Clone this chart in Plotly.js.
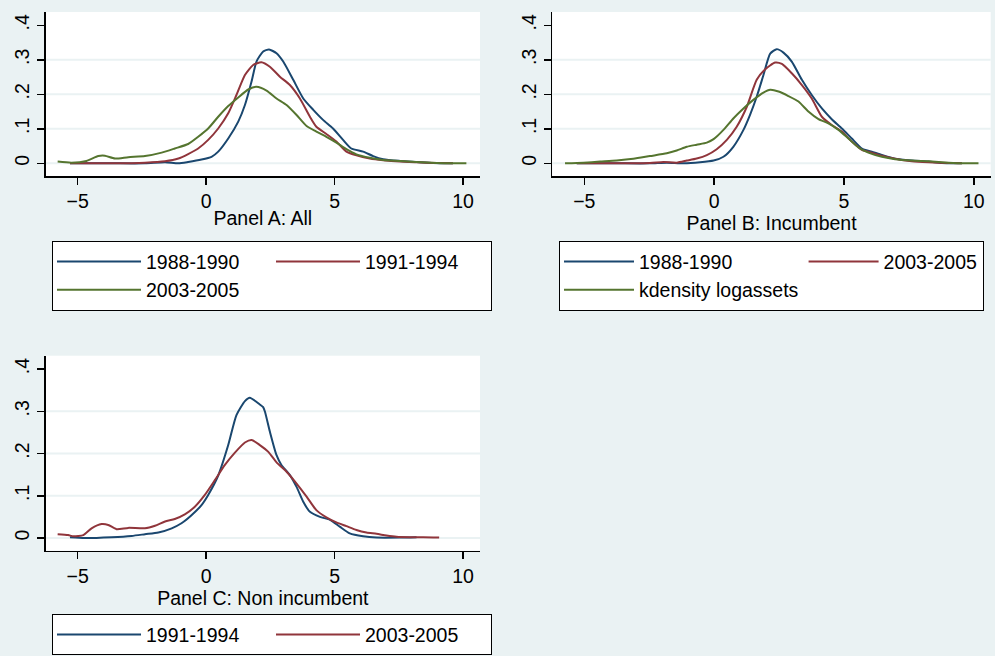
<!DOCTYPE html>
<html><head><meta charset="utf-8">
<script src="https://cdn.plot.ly/plotly-3.0.1.min.js"></script>
<style>html,body{margin:0;padding:0;background:#EAF2F3;} #chart{width:995px;height:656px;}</style>
</head><body><div id="chart"></div>
<script>
// ---- tick labels ----
const xTicks = [-5, 0, 5, 10];
const yTicks = [0, 0.1, 0.2, 0.3, 0.4];
const yTickText = ['0', '.1', '.2', '.3', '.4'];
const gridVals = [0, 0.1, 0.2, 0.3];
const panelTitles = ['Panel A: All', 'Panel B: Incumbent', 'Panel C: Non incumbent'];

// ---- Panel A: All ----
const aNames = ['1988-1990', '1991-1994', '2003-2005'];
const aX1 = [-5.3, -3.69, -2.38, -1.60, -1.08, -0.70, -0.18, 0.21, 0.47, 0.86, 1.25, 1.51, 1.77, 1.96, 2.22, 2.45, 2.74, 3.00, 3.39, 3.78, 4.17, 4.55, 4.94, 5.33, 5.65, 6.11, 6.50, 6.89, 7.54, 8.19, 8.84, 9.6];
const aY1 = [0, 0, 0, 0.003, 0, 0.004, 0.011, 0.019, 0.034, 0.072, 0.121, 0.169, 0.238, 0.295, 0.324, 0.330, 0.319, 0.295, 0.242, 0.188, 0.155, 0.126, 0.101, 0.068, 0.043, 0.034, 0.021, 0.012, 0.007, 0.004, 0.001, 0];
const aX2 = [-5.3, -3.69, -2.38, -1.60, -1.08, -0.70, -0.31, 0.08, 0.47, 0.86, 1.18, 1.51, 1.83, 2.15, 2.48, 2.87, 3.26, 3.65, 4.04, 4.29, 4.68, 5.07, 5.46, 5.85, 6.37, 6.89, 7.54, 8.19, 8.97, 9.61];
const aY2 = [0, 0, 0.002, 0.006, 0.014, 0.027, 0.043, 0.068, 0.101, 0.145, 0.198, 0.256, 0.285, 0.293, 0.280, 0.251, 0.227, 0.188, 0.135, 0.106, 0.085, 0.063, 0.034, 0.023, 0.014, 0.009, 0.005, 0.003, 0.001, 0];
const aX3 = [-5.78, -5.24, -4.66, -4.20, -3.94, -3.55, -3.03, -2.38, -1.73, -1.22, -0.70, -0.31, 0.08, 0.47, 0.86, 1.25, 1.64, 1.96, 2.35, 2.74, 3.13, 3.52, 3.91, 4.29, 4.68, 5.07, 5.46, 5.85, 6.37, 6.89, 7.54, 8.19, 8.97, 9.61, 10.13];
const aY3 = [0.005, 0.002, 0.007, 0.021, 0.022, 0.014, 0.018, 0.021, 0.031, 0.043, 0.056, 0.077, 0.101, 0.135, 0.166, 0.191, 0.214, 0.222, 0.211, 0.188, 0.169, 0.140, 0.108, 0.092, 0.077, 0.060, 0.041, 0.026, 0.016, 0.010, 0.007, 0.004, 0.001, 0, 0];

// ---- Panel B: Incumbent ----
const bNames = ['1988-1990', '2003-2005', 'kdensity logassets'];
const bX1 = [-5.29, -3.75, -2.47, -1.82, -1.18, -0.54, -0.02, 0.36, 0.74, 1.13, 1.38, 1.64, 1.90, 2.16, 2.41, 2.67, 2.99, 3.38, 3.76, 4.15, 4.53, 4.92, 5.30, 5.69, 6.07, 6.46, 6.97, 7.61, 8.26, 8.77, 9.28, 9.54];
const bY1 = [0, 0, 0, 0.002, 0, 0.003, 0.008, 0.019, 0.048, 0.097, 0.140, 0.193, 0.256, 0.318, 0.331, 0.321, 0.295, 0.242, 0.198, 0.159, 0.128, 0.101, 0.072, 0.043, 0.034, 0.024, 0.013, 0.008, 0.005, 0.001, 0, 0];
const bX2 = [-5.29, -3.75, -2.47, -1.95, -1.44, -1.05, -0.67, -0.28, 0.10, 0.49, 0.87, 1.26, 1.64, 1.96, 2.35, 2.61, 2.99, 3.38, 3.76, 4.15, 4.53, 4.92, 5.30, 5.69, 6.07, 6.46, 6.97, 7.61, 8.26, 9.03, 9.54];
const bY2 = [0, 0, 0.001, 0.004, 0.002, 0.008, 0.014, 0.024, 0.041, 0.068, 0.106, 0.164, 0.242, 0.272, 0.292, 0.288, 0.261, 0.227, 0.188, 0.135, 0.111, 0.092, 0.063, 0.039, 0.031, 0.022, 0.013, 0.006, 0.003, 0.001, 0];
const bX3 = [-5.74, -5.03, -4.39, -3.75, -3.11, -2.47, -1.82, -1.44, -1.05, -0.67, -0.28, -0.02, 0.36, 0.74, 1.13, 1.51, 1.90, 2.16, 2.48, 2.86, 3.25, 3.63, 4.02, 4.40, 4.79, 5.17, 5.56, 5.94, 6.46, 6.97, 7.61, 8.26, 9.03, 9.67, 10.18];
const bY3 = [0, 0.002, 0.005, 0.008, 0.013, 0.021, 0.029, 0.037, 0.048, 0.054, 0.060, 0.070, 0.097, 0.130, 0.159, 0.184, 0.205, 0.213, 0.208, 0.195, 0.179, 0.150, 0.128, 0.116, 0.097, 0.072, 0.046, 0.031, 0.019, 0.012, 0.008, 0.006, 0.002, 0, 0];

// ---- Panel C: Non incumbent ----
const cNames = ['1991-1994', '2003-2005'];
const cX1 = [-5.30, -4.72, -3.68, -2.90, -2.38, -1.86, -1.34, -0.96, -0.57, -0.18, 0.08, 0.47, 0.86, 1.18, 1.51, 1.70, 2.09, 2.22, 2.29, 2.48, 2.74, 2.93, 3.26, 3.52, 3.78, 4.04, 4.43, 4.82, 5.20, 5.59, 6.11, 6.63, 7.54, 8.19];
const cY1 = [0.002, 0, 0.002, 0.005, 0.009, 0.013, 0.023, 0.035, 0.054, 0.078, 0.102, 0.148, 0.220, 0.291, 0.324, 0.332, 0.316, 0.310, 0.299, 0.252, 0.196, 0.173, 0.149, 0.121, 0.086, 0.062, 0.050, 0.043, 0.027, 0.011, 0.004, 0.001, 0.001, 0.002];
const cX2 = [-5.78, -5.37, -5.17, -4.78, -4.46, -4.07, -3.81, -3.49, -3.03, -2.38, -1.99, -1.60, -1.22, -0.83, -0.44, -0.05, 0.34, 0.73, 1.12, 1.51, 1.77, 2.09, 2.42, 2.74, 3.13, 3.52, 3.91, 4.29, 4.68, 5.07, 5.46, 5.85, 6.24, 6.63, 7.02, 7.41, 7.93, 8.45, 9.07];
const cY2 = [0.009, 0.007, 0.004, 0.007, 0.023, 0.033, 0.031, 0.021, 0.024, 0.023, 0.029, 0.039, 0.045, 0.056, 0.074, 0.102, 0.137, 0.173, 0.202, 0.226, 0.232, 0.220, 0.204, 0.179, 0.157, 0.129, 0.098, 0.066, 0.049, 0.037, 0.028, 0.019, 0.013, 0.010, 0.006, 0.003, 0.002, 0.002, 0.001];

const NAVY = '#1A476F', MAROON = '#90353B', GREEN = '#55752F';
const FONT = 'Arial, "Liberation Sans", sans-serif';
const FS = 19.5;

function tr(x, y, name, color, xa, ya, legend, group) {
  return {x: x, y: y, name: name, type: 'scatter', mode: 'lines',
    line: {color: color, width: 2, shape: 'spline', smoothing: 0.6},
    xaxis: xa, yaxis: ya, legend: legend, legendgroup: group, hoverinfo: 'skip'};
}

const data = [
  tr(aX1, aY1, aNames[0], NAVY, 'x', 'y', 'legend', 'a1'),
  tr(aX2, aY2, aNames[1], MAROON, 'x', 'y', 'legend', 'a2'),
  tr(aX3, aY3, aNames[2], GREEN, 'x', 'y', 'legend', 'a1'),
  tr(bX1, bY1, bNames[0], NAVY, 'x2', 'y2', 'legend2', 'b1'),
  tr(bX2, bY2, bNames[1], MAROON, 'x2', 'y2', 'legend2', 'b2'),
  tr(bX3, bY3, bNames[2], GREEN, 'x2', 'y2', 'legend2', 'b1'),
  tr(cX1, cY1, cNames[0], NAVY, 'x3', 'y3', 'legend3', 'c1'),
  tr(cX2, cY2, cNames[1], MAROON, 'x3', 'y3', 'legend3', 'c2')
];

function xax(domain, range, anchor, title) {
  return {domain: domain, range: range, anchor: anchor, tickvals: xTicks,
    ticks: 'outside', ticklen: 7, tickwidth: 1.5, tickcolor: '#000',
    showline: true, linecolor: '#000', linewidth: 1.5, showgrid: false, zeroline: false,
    tickfont: {family: FONT, size: FS, color: '#000'},
    title: {text: title, font: {family: FONT, size: FS, color: '#000'}, standoff: 0},
    fixedrange: true};
}
function yax(domain, range, anchor) {
  return {domain: domain, range: range, anchor: anchor, tickvals: yTicks, ticktext: yTickText,
    tickangle: -90, ticks: 'outside', ticklen: 7, tickwidth: 1.5, tickcolor: '#000',
    showline: true, linecolor: '#000', linewidth: 1.5, showgrid: false, zeroline: false,
    tickfont: {family: FONT, size: FS, color: '#000'}, fixedrange: true};
}
function leg(x, y, iw, ew) {
  const o = {x: x, y: y, xanchor: 'left', yanchor: 'top', orientation: 'h', traceorder: 'grouped',
    bgcolor: '#fff', bordercolor: '#000', borderwidth: 1.2, itemwidth: iw,
    font: {family: FONT, size: FS, color: '#000'}, tracegroupgap: 0};
  if (ew) o.entrywidth = ew;
  return o;
}

const shapes = [];
[['x', 'y'], ['x2', 'y2'], ['x3', 'y3']].forEach(function (p) {
  gridVals.forEach(function (v) {
    shapes.push({type: 'line', xref: p[0] + ' domain', yref: p[1], x0: 0, x1: 1, y0: v, y1: v,
      line: {color: '#EAF2F3', width: 2}, layer: 'below'});
  });
});

const W = 995, H = 656;
const rAB = [-0.0367, 0.4386], rC = [-0.030, 0.4315];
const layout = {
  width: W, height: H, margin: {l: 0, r: 0, t: 0, b: 0, autoexpand: false},
  paper_bgcolor: '#EAF2F3', plot_bgcolor: '#FFFFFF',
  font: {family: FONT, size: FS, color: '#000'},
  showlegend: true,
  xaxis: xax([45.7 / W, 480 / W], [-6.245, 10.66], 'y', panelTitles[0]),
  yaxis: yax([1 - 176 / H, 1 - 12 / H], rAB, 'x'),
  xaxis2: xax([552.3 / W, 990.7 / W], [-6.23, 10.65], 'y2', panelTitles[1]),
  yaxis2: yax([1 - 176 / H, 1 - 12 / H], rAB, 'x2'),
  xaxis3: xax([45.7 / W, 480 / W], [-6.245, 10.66], 'y3', panelTitles[2]),
  yaxis3: yax([1 - 550.7 / H, 1 - 355.7 / H], rC, 'x3'),
  legend: leg(52 / W, 1 - 241 / H, 84, 120),
  legend2: leg(559 / W, 1 - 241 / H, 70, 0),
  legend3: leg(52 / W, 1 - 614 / H, 84, 120),
  shapes: shapes
};

Plotly.newPlot('chart', data, layout, {staticPlot: true, displayModeBar: false});
</script>
</body></html>
